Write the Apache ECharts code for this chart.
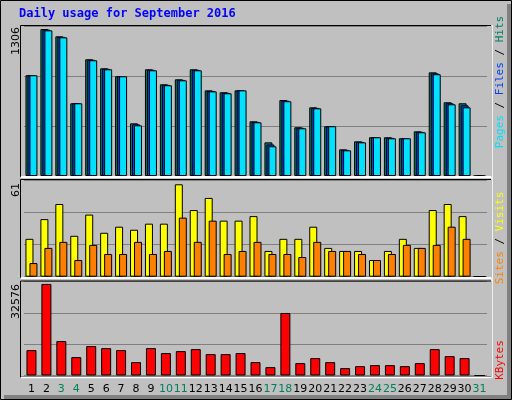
<!DOCTYPE html>
<html><head><meta charset="utf-8">
<script src="https://cdn.jsdelivr.net/npm/echarts@6/dist/echarts.min.js"></script>
<style>html,body{margin:0;padding:0;background:#c0c0c0}#c{width:512px;height:400px}</style>
</head><body><div id="c"></div>
<script>
const days = Array.from({length:31},(_,i)=>String(i+1));
const weekends = ['3','4','10','11','17','18','24','25','31'];
const hits  = [895,1306,1241,646,1037,957,886,468,948,815,859,948,761,744,761,486,299,675,433,610,442,237,308,344,344,335,397,921,655,646,0];
const files = [895,1300,1236,646,1032,952,886,459,943,810,854,943,756,740,761,481,280,669,428,605,442,232,303,344,339,335,392,912,646,628,0];
const pages = [895,1294,1232,646,1028,948,886,450,939,806,850,939,752,735,761,477,264,664,424,601,442,228,299,344,335,335,388,904,637,610,0];
const visits= [25,38,48,27,41,29,33,31,35,35,61,44,52,37,37,40,17,25,25,33,19,17,17,11,17,25,19,44,48,40,0];
const sites = [9,19,23,11,21,15,15,23,15,17,39,23,37,15,17,23,15,15,13,23,17,17,15,11,15,21,19,21,33,25,0];
const kbytes= [9040,32576,12250,6540,10460,9750,9040,4760,9750,7970,8680,9390,7610,7610,7970,4760,2970,22240,4400,6190,4760,2620,3330,3690,3690,3330,4400,9390,6900,6190,0];

const maxH = Math.max(...hits), maxV = Math.max(...visits), maxK = Math.max(...kbytes);
const topMax = maxH*150/147, midMax = maxV*96.7/92.4, botMax = maxK*93.7/91.3;
const grids = [
  {left:24,width:463,top:26,height:150},
  {left:24,width:463,top:180,height:96.7},
  {left:24,width:463,top:281.5,height:94}
];
const mono = 'DejaVu Sans Mono';
function xa(i){return {type:'category',gridIndex:i,data:days,axisLine:{show:false},axisTick:{show:false},
  axisLabel:i===2?{show:true,interval:0,fontFamily:'DejaVu Sans',fontSize:11,margin:8,color:'#000',
    formatter:v=>weekends.includes(v)?'{w|'+v+'}':v,rich:{w:{color:'#00805c',fontFamily:'DejaVu Sans',fontSize:11}}}:{show:false}};}
function ya(i,m){return {type:'value',gridIndex:i,min:0,max:m,interval:m/3,axisLabel:{show:false},axisLine:{show:false},axisTick:{show:false},
  splitLine:{lineStyle:{color:'#808080',width:1}}};}
const bs = {borderColor:'#000',borderWidth:1};
const panel = (y,h)=>({type:'rect',shape:{x:20.5,y:y+0.5,width:471,height:h},style:{fill:'none',stroke:'#000',lineWidth:1},z:40});
const chart = echarts.init(document.getElementById('c'));
chart.setOption({
  backgroundColor:'#c0c0c0',animation:false,
  grid:grids,
  xAxis:[xa(0),xa(1),xa(2)],
  yAxis:[ya(0,topMax),ya(1,midMax),ya(2,botMax)],
  series:[
    {type:'bar',xAxisIndex:0,yAxisIndex:0,data:hits,barWidth:8,barGap:'-75%',itemStyle:Object.assign({color:'#00805c'},bs)},
    {type:'bar',xAxisIndex:0,yAxisIndex:0,data:files,barWidth:8,barGap:'-75%',itemStyle:Object.assign({color:'#0040ff'},bs)},
    {type:'bar',xAxisIndex:0,yAxisIndex:0,data:pages,barWidth:8,barGap:'-75%',itemStyle:Object.assign({color:'#00e0ff'},bs)},
    {type:'bar',xAxisIndex:1,yAxisIndex:1,data:visits,barWidth:8,barGap:'-50%',itemStyle:Object.assign({color:'#ffff00'},bs)},
    {type:'bar',xAxisIndex:1,yAxisIndex:1,data:sites,barWidth:8,barGap:'-50%',itemStyle:Object.assign({color:'#ff8000'},bs)},
    {type:'bar',xAxisIndex:2,yAxisIndex:2,data:kbytes,barWidth:10,itemStyle:Object.assign({color:'#ff0000'},bs)}
  ],
  graphic:[
    {type:'rect',shape:{x:0.5,y:0.5,width:511,height:399},style:{fill:'none',stroke:'#000',lineWidth:1},z:100},
    {type:'rect',shape:{x:507,y:4,width:4,height:395},style:{fill:'#808080'},z:99},
    {type:'rect',shape:{x:4,y:395,width:507,height:4},style:{fill:'#808080'},z:99},
    panel(25,151), panel(179,98), panel(280.5,96),
    {type:'line',shape:{x1:21,y1:177,x2:491,y2:177},style:{stroke:'#fff',lineWidth:2},z:50},
    {type:'line',shape:{x1:21,y1:278,x2:491,y2:278},style:{stroke:'#fff',lineWidth:2},z:50},
    {type:'line',shape:{x1:21,y1:377.5,x2:491,y2:377.5},style:{stroke:'#fff',lineWidth:1.5},z:50},
    {type:'line',shape:{x1:492,y1:25,x2:492,y2:378},style:{stroke:'#fff',lineWidth:1.5},z:50},
    {type:'text',x:19,y:8,style:{text:'Daily usage for September 2016',fill:'#0000ff',font:'bold 12px '+mono}},
    {type:'text',x:16,y:27,rotation:Math.PI/2,style:{text:String(maxH),fill:'#000',font:'11px DejaVu Sans',align:'right',verticalAlign:'middle'}},
    {type:'text',x:16,y:183,rotation:Math.PI/2,style:{text:String(maxV),fill:'#000',font:'11px DejaVu Sans',align:'right',verticalAlign:'middle'}},
    {type:'text',x:16,y:284,rotation:Math.PI/2,style:{text:String(maxK),fill:'#000',font:'11px DejaVu Sans',align:'right',verticalAlign:'middle'}},
    {type:'text',x:500,y:82,rotation:Math.PI/2,style:{text:'{p|Pages} {s|/} {f|Files} {s|/} {h|Hits}',font:'11px '+mono,align:'center',verticalAlign:'middle',
      rich:{p:{fill:'#00e0ff',font:'11px '+mono},f:{fill:'#0040ff',font:'11px '+mono},h:{fill:'#00805c',font:'11px '+mono},s:{fill:'#000',font:'11px '+mono}}}},
    {type:'text',x:500,y:238,rotation:Math.PI/2,style:{text:'{o|Sites} {s|/} {y|Visits}',font:'11px '+mono,align:'center',verticalAlign:'middle',
      rich:{o:{fill:'#ff8000',font:'11px '+mono},y:{fill:'#ffff00',font:'11px '+mono},s:{fill:'#000',font:'11px '+mono}}}},
    {type:'text',x:500,y:360,rotation:Math.PI/2,style:{text:'KBytes',fill:'#ff0000',font:'11px '+mono,align:'center',verticalAlign:'middle'}}
  ]
});
</script></body></html>
